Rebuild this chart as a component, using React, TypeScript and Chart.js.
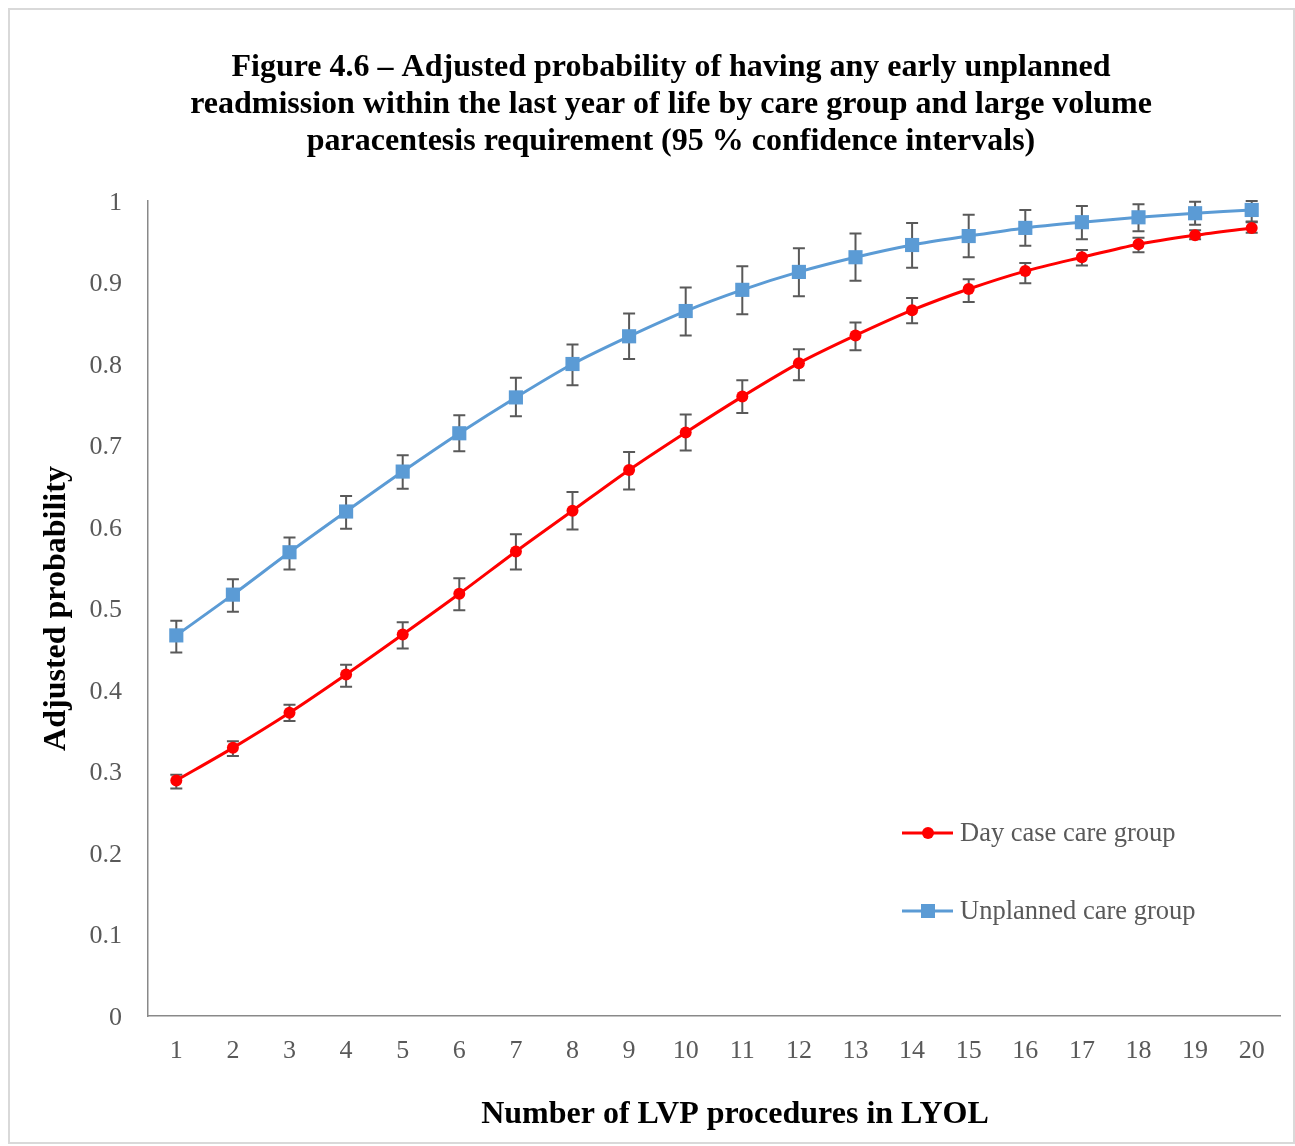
import React, { useEffect, useRef } from "react";
import { Chart, registerables } from "chart.js";

Chart.register(...registerables);

const categories = ["1","2","3","4","5","6","7","8","9","10","11","12","13","14","15","16","17","18","19","20"];

const dayCase = [0.289,0.329,0.372,0.419,0.468,0.518,0.570,0.620,0.670,0.716,0.760,0.801,0.835,0.866,0.892,0.914,0.931,0.947,0.958,0.967];
const dayCaseLower = [0.279,0.319,0.362,0.404,0.451,0.498,0.548,0.597,0.646,0.694,0.740,0.780,0.817,0.850,0.876,0.899,0.921,0.937,0.953,0.961];
const dayCaseUpper = [0.296,0.337,0.382,0.431,0.483,0.537,0.591,0.643,0.692,0.738,0.780,0.818,0.851,0.881,0.904,0.924,0.940,0.955,0.964,0.974];

const unplanned = [0.467,0.517,0.569,0.619,0.668,0.715,0.759,0.800,0.834,0.865,0.891,0.913,0.931,0.946,0.957,0.967,0.974,0.980,0.985,0.989];
const unplannedLower = [0.446,0.496,0.548,0.598,0.647,0.693,0.736,0.774,0.806,0.835,0.861,0.883,0.902,0.918,0.931,0.945,0.953,0.963,0.971,0.975];
const unplannedUpper = [0.485,0.536,0.587,0.638,0.688,0.737,0.783,0.824,0.862,0.894,0.920,0.942,0.960,0.973,0.983,0.989,0.994,0.996,0.999,1.0];

const titleLines = [
  "Figure 4.6 – Adjusted probability of having any early unplanned",
  "readmission within the last year of life by care group and large volume",
  "paracentesis requirement (95 % confidence intervals)",
];
const xTitle = "Number of LVP procedures in LYOL";
const yTitle = "Adjusted probability";
const seriesNames = ["Day case care group", "Unplanned care group"];

const RED = "#FF0000";
const BLUE = "#5B9BD5";
const GRAY_TEXT = "#595959";
const SERIF = "'Liberation Serif', 'Times New Roman', serif";

const errorBarPlugin = {
  id: "errorBars",
  beforeDatasetsDraw(chart: any) {
    const ctx = chart.ctx;
    const x = chart.scales.x;
    const y = chart.scales.y;
    const sets = [
      [dayCaseLower, dayCaseUpper],
      [unplannedLower, unplannedUpper],
    ];
    ctx.save();
    ctx.strokeStyle = "#595959";
    ctx.lineWidth = 2;
    sets.forEach(([lo, hi]) => {
      lo.forEach((l: number, i: number) => {
        const px = x.getPixelForValue(i);
        const pl = y.getPixelForValue(l);
        const ph = y.getPixelForValue(hi[i]);
        ctx.beginPath();
        ctx.moveTo(px, pl);
        ctx.lineTo(px, ph);
        ctx.moveTo(px - 6, pl);
        ctx.lineTo(px + 6, pl);
        ctx.moveTo(px - 6, ph);
        ctx.lineTo(px + 6, ph);
        ctx.stroke();
      });
    });
    ctx.restore();
  },
};

const textPlugin = {
  id: "texts",
  afterDraw(chart: any) {
    const ctx = chart.ctx;
    const area = chart.chartArea;
    ctx.save();
    // main title
    ctx.fillStyle = "#000000";
    ctx.font = `bold 32px ${SERIF}`;
    ctx.textAlign = "center";
    ctx.textBaseline = "middle";
    titleLines.forEach((t, i) => ctx.fillText(t, 661, 58 + i * 37));
    // x title
    ctx.fillText(xTitle, 725, 1105);
    // y title
    ctx.save();
    ctx.translate(47, (area.top + area.bottom) / 2);
    ctx.rotate(-Math.PI / 2);
    ctx.fillText(yTitle, 0, 0);
    ctx.restore();
    // legend
    ctx.font = `26.5px ${SERIF}`;
    ctx.textAlign = "left";
    ctx.fillStyle = GRAY_TEXT;
    const items = [
      { name: seriesNames[0], color: RED, style: "circle", y: 823 },
      { name: seriesNames[1], color: BLUE, style: "rect", y: 901 },
    ];
    items.forEach((it) => {
      ctx.strokeStyle = it.color;
      ctx.lineWidth = 3;
      ctx.beginPath();
      ctx.moveTo(892, it.y);
      ctx.lineTo(943, it.y);
      ctx.stroke();
      ctx.fillStyle = it.color;
      if (it.style === "circle") {
        ctx.beginPath();
        ctx.arc(918, it.y, 6, 0, Math.PI * 2);
        ctx.fill();
      } else {
        ctx.fillRect(911, it.y - 7, 14, 14);
      }
      ctx.fillStyle = GRAY_TEXT;
      ctx.fillText(it.name, 950, it.y + 1);
    });
    ctx.restore();
  },
};

export default function App() {
  const ref = useRef<HTMLCanvasElement>(null);
  useEffect(() => {
    if (!ref.current) return;
    const chart = new Chart(ref.current, {
      type: "line",
      data: {
        labels: categories,
        datasets: [
          {
            label: seriesNames[0],
            data: dayCase,
            borderColor: RED,
            backgroundColor: RED,
            borderWidth: 3,
            pointStyle: "circle",
            pointRadius: 6,
            pointBorderWidth: 0,
            tension: 0.3,
          },
          {
            label: seriesNames[1],
            data: unplanned,
            borderColor: BLUE,
            backgroundColor: BLUE,
            borderWidth: 3,
            pointStyle: "rect",
            pointRadius: 10,
            pointBorderWidth: 0,
            tension: 0.3,
          },
        ],
      },
      options: {
        responsive: false,
        animation: false,
        events: [],
        layout: { padding: { top: 191, right: 13, left: 0, bottom: 0 } },
        plugins: {
          legend: { display: false },
          title: { display: false },
          tooltip: { enabled: false },
        },
        scales: {
          x: {
            type: "category",
            offset: true,
            grid: { display: false, drawTicks: false },
            border: { display: true, color: "#898989", width: 1.5 },
            ticks: {
              color: GRAY_TEXT,
              font: { family: SERIF, size: 26 },
              padding: 20,
              maxRotation: 0,
              autoSkip: false,
            },
            afterFit: (s: any) => { s.height = 126; },
          },
          y: {
            min: 0,
            max: 1,
            grid: { display: false, drawTicks: false },
            border: { display: true, color: "#898989", width: 1.5 },
            ticks: {
              stepSize: 0.1,
              color: GRAY_TEXT,
              font: { family: SERIF, size: 26 },
              padding: 26,
              labelOffset: 2,
              callback: (v: any) => String(Math.round(Number(v) * 10) / 10),
            },
            afterFit: (s: any) => { s.width = 138; },
          },
        },
      },
      plugins: [errorBarPlugin, textPlugin],
    });
    return () => chart.destroy();
  }, []);
  return (
    <div style={{ position: "absolute", left: 8, top: 8, width: 1287, height: 1136, border: "2px solid #d9d9d9", boxSizing: "border-box", background: "#fff" }}>
      <canvas ref={ref} width={1283} height={1132} style={{ display: "block" }} />
    </div>
  );
}
